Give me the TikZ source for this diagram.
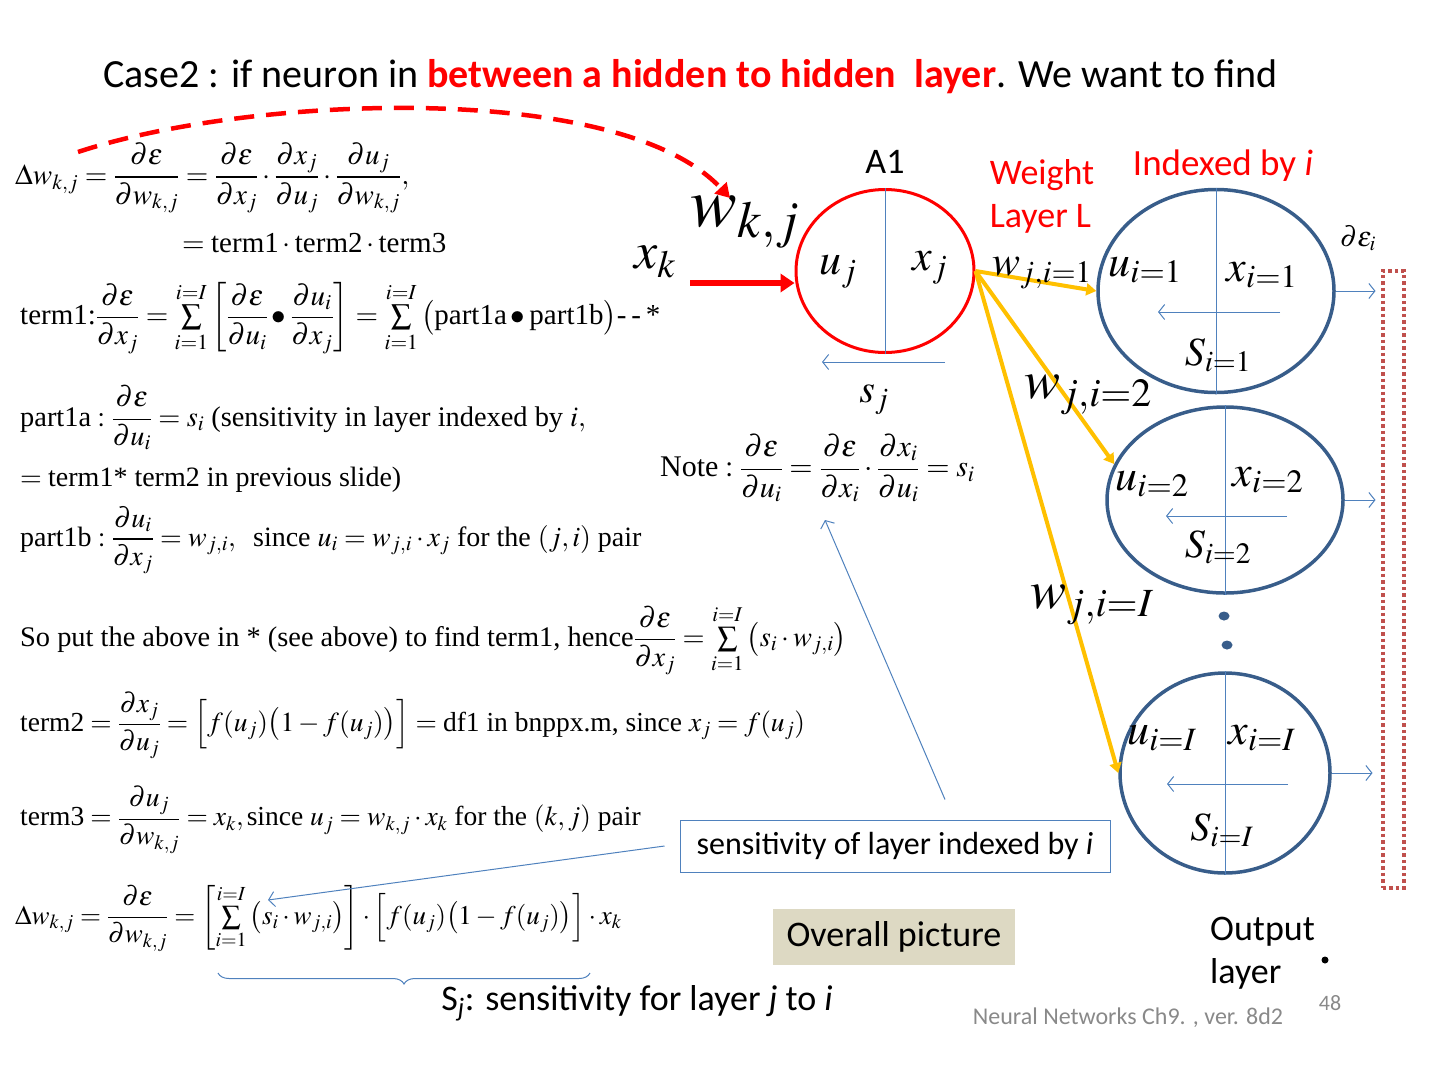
\documentclass[tikz,border=0pt]{standalone}
\usepackage{amsmath}
\usepackage{mathptmx}
\usepackage{fontspec}
\setmainfont{Liberation Serif}
\newfontfamily\slidefont{Carlito}
\usetikzlibrary{positioning}
\usetikzlibrary{arrows.meta}
\usetikzlibrary{shapes.geometric}
\usetikzlibrary{decorations.pathreplacing}
\definecolor{nblue}{RGB}{56,93,138}
\definecolor{lblue}{RGB}{79,129,189}
\definecolor{wyellow}{RGB}{255,192,0}
\definecolor{boxred}{RGB}{192,80,77}
\definecolor{tanbox}{RGB}{221,217,195}
\definecolor{fgray}{RGB}{137,137,137}
\tikzset{neuronA/.style = {draw=red, line width=3pt, ellipse, inner sep=0}}
\tikzset{neuron/.style = {draw=nblue, line width=3.5pt, ellipse, inner sep=0}}
\tikzset{thinline/.style = {draw=lblue, line width=1pt}}
\tikzset{openarr/.style = {thinline, -{Straight Barb[length=6pt,width=15pt]}}}
\tikzset{wline/.style = {draw=wyellow, line width=4pt, -{Triangle[length=10pt,width=12pt]}}}
\tikzset{eqn/.style = {anchor=west, inner sep=0, font=\fontsize{#1}{34}\selectfont}, eqn/.default=29}
\tikzset{slide/.style = {inner sep=0, font=\slidefont\fontsize{#1}{#1}\selectfont}}
\tikzset{bigmath/.style = {inner sep=0, font=\fontsize{#1}{#1}\selectfont}}

\begin{document}
\begin{tikzpicture}[x=1pt,y=-1pt]
  \useasboundingbox (0,0) rectangle (1440,1080);
  % title
  \node[slide=40, anchor=west] (title) at (103,77)
    {Case2 : if neuron in \textcolor{red}{\textbf{between a hidden to hidden\ \ layer}}. We want to find};

  % equations on the left
  \node[eqn] (eqA) at (15,178)
    {$\Delta w_{k,j} =\dfrac{\partial\varepsilon}{\partial w_{k,j}} =\dfrac{\partial\varepsilon}{\partial x_j}\cdot\dfrac{\partial x_j}{\partial u_j}\cdot\dfrac{\partial u_j}{\partial w_{k,j}},$};
  \node[eqn] (eqB) at (182,243) {$=\text{term1}\cdot\text{term2}\cdot\text{term3}$};
  \node[eqn] (eqC) at (20,318)
    {$\text{term1:}\dfrac{\partial\varepsilon}{\partial x_j} =\sum\limits_{i=1}^{i=I}\left[\dfrac{\partial\varepsilon}{\partial u_i}\bullet\dfrac{\partial u_i}{\partial x_j}\right] =\sum\limits_{i=1}^{i=I}\big(\text{part1a}\bullet\text{part1b}\big)\text{-\,-\,*}$};
  \node[eqn=28.4] (eqD) at (20,418)
    {$\text{part1a}:\dfrac{\partial\varepsilon}{\partial u_i} =s_i\ \text{(sensitivity in layer indexed by }i,$};
  \node[eqn=28] (eqE) at (20,480) {$=\text{term1* term2 in previous slide)}$};
  \node[eqn=28] (eqF) at (20,540)
    {$\text{part1b}:\dfrac{\partial u_i}{\partial x_j} =w_{j,i},\ \ \text{since }u_i =w_{j,i}\cdot x_j\text{ for the }(j,i)\text{ pair}$};
  \node[eqn=28.4] (eqG) at (20,640)
    {$\text{So put the above in * (see above) to find term1, hence}\dfrac{\partial\varepsilon}{\partial x_j} =\sum\limits_{i=1}^{i=I}\big(s_i\cdot w_{j,i}\big)$};
  \node[eqn=27.5] (eqH) at (20,725)
    {$\text{term2} =\dfrac{\partial x_j}{\partial u_j} =\Big[f(u_j)\big(1-f(u_j)\big)\Big] =\text{df1 in bnppx.m, since }x_j =f(u_j)$};
  \node[eqn=27.5] (eqI) at (20,820)
    {$\text{term3} =\dfrac{\partial u_j}{\partial w_{k,j}} =x_k,\text{since }u_j =w_{k,j}\cdot x_k\text{ for the }(k,j)\text{ pair}$};
  \node[eqn=27] (eqJ) at (15,918)
    {$\Delta w_{k,j} =\dfrac{\partial\varepsilon}{\partial w_{k,j}} =\left[\sum\limits_{i=1}^{i=I}\big(s_i\cdot w_{j,i}\big)\right]\cdot\Big[f(u_j)\big(1-f(u_j)\big)\Big]\cdot x_k$};

  % brace under the sum
  \coordinate (brL) at (218,973);
  \coordinate (brR) at (590,973);
  \draw[thinline, decorate, decoration={brace, mirror, amplitude=11pt}] (brL) -- (brR);
  \node[slide=36] (sjtext) at (637,1003) {S\textsubscript{\textit{j}}: sensitivity for layer \textit{j} to \textit{i}};

  % neuron j
  \node[slide=36] (A1lab) at (885,162) {A1};
  \node[neuronA, minimum width=178pt, minimum height=163pt] (A1) at (885,271) {};
  \draw[thinline] (A1.north) -- (A1.south);
  \node[bigmath=44] (uj) at (838,272) {$u_j$};
  \node[bigmath=44] (xj) at (930,268) {$x_j$};
  \coordinate (sjR) at (945,362);
  \coordinate (sjL) at (822,362);
  \draw[openarr] (sjR) -- (sjL);
  \node[bigmath=40] (sj) at (874,400) {$s_j$};
  \node[bigmath=52] (xk) at (655,262) {$x_k$};
  \coordinate (xin) at (690,283);
  \draw[red, line width=6pt, -{Triangle[length=14pt,width=18pt]}] (xin) -- (xin -| A1.west);
  \node[bigmath=70] (wkj) at (745,222) {$w_{k,j}$};

  % dashed pointer from the first equation
  \coordinate (dstart) at (78,152);
  \coordinate (dend) at (730,198);
  \draw[red, line width=4.5pt, dash pattern=on 20pt off 12pt, -{Triangle[length=14pt,width=16pt]}]
    (dstart) .. controls (250,95) and (620,80) .. (dend);

  \node[red, align=left, inner sep=0, font=\slidefont\fontsize{36}{43}\selectfont] (wlayer) at (1042,196) {Weight\\Layer L};
  \node[slide=37, red] (idx) at (1223,166) {Indexed by \textit{i}};

  % output layer neurons
  \node[neuron, minimum width=236pt, minimum height=203pt] (c1) at (1216,291) {};
  \node[neuron, minimum width=236pt, minimum height=186pt] (c2) at (1225,500) {};
  \node[neuron, minimum width=210pt, minimum height=200pt] (c3) at (1225,773) {};
  \draw[thinline] (c1.north) -- (c1.south);
  \draw[thinline] (c2.north) -- (c2.south);
  \draw[thinline] (c3.north) -- (c3.south);
  \draw[openarr] ([shift={(64,21)}]c1.center) -- ([shift={(-58,21)}]c1.center);
  \draw[openarr] ([shift={(62,16)}]c2.center) -- ([shift={(-59,16)}]c2.center);
  \draw[openarr] ([shift={(63,11)}]c3.center) -- ([shift={(-58,11)}]c3.center);
  \node[fill=nblue, ellipse, inner sep=0, minimum width=11pt, minimum height=9pt] (dot1) at (1224,616) {};
  \node[fill=nblue, ellipse, inner sep=0, minimum width=11pt, minimum height=9pt] (dot2) at (1227,645) {};

  \node[bigmath=44] (u1) at (1145,270) {$u_{i=1}$};
  \node[bigmath=44] (x1) at (1262,275) {$x_{i=1}$};
  \node[bigmath=40] (s1) at (1218,355) {$S_{i=1}$};
  \node[bigmath=44] (u2) at (1152,484) {$u_{i=2}$};
  \node[bigmath=44] (x2) at (1268,480) {$x_{i=2}$};
  \node[bigmath=40] (s2) at (1218,547) {$S_{i=2}$};
  \node[bigmath=44] (u3) at (1162,738) {$u_{i=I}$};
  \node[bigmath=44] (x3) at (1262,738) {$x_{i=I}$};
  \node[bigmath=40] (s3) at (1222,830) {$S_{i=I}$};

  % error box
  \node[draw=boxred, line width=4pt, dash pattern=on 3.5pt off 3pt, minimum width=21pt, minimum height=617pt, inner sep=0] (errbox) at (1393,579) {};
  \node[bigmath=28] (deps) at (1358,238) {$\partial\varepsilon_i$};
  \draw[openarr, shorten >=5pt] (c1.east) -- (c1.east -| errbox.west);
  \draw[openarr, shorten >=5pt] (c2.east) -- (c2.east -| errbox.west);
  \draw[openarr, shorten >=8pt] (c3.east) -- (c3.east -| errbox.west);

  % weights j -> i
  \draw[wline] (A1.east) -- (c1.west);
  \draw[wline] (A1.east) -- (c2.162);
  \draw[wline] (A1.east) -- (c3.west);
  \node[bigmath=42] (w1) at (1042,273) {$w_{j,i=1}$};
  \node[bigmath=54] (w2) at (1088,395) {$w_{j,i=2}$};
  \node[bigmath=54] (w3) at (1092,605) {$w_{j,i=I}$};

  % note and call-outs
  \node[eqn=30] (note) at (660,468)
    {$\text{Note}:\dfrac{\partial\varepsilon}{\partial u_i} =\dfrac{\partial\varepsilon}{\partial x_i}\cdot\dfrac{\partial x_i}{\partial u_i} =s_i$};
  \node[draw=lblue, line width=1pt, slide=32, minimum width=430pt, minimum height=52pt] (sensbox) at (895,846)
    {sensitivity of layer indexed by \textit{i}};
  \coordinate (notetip) at (825,520);
  \coordinate (sumtip) at (268,900);
  \draw[openarr] ([xshift=50pt, yshift=20pt]sensbox.north) -- (notetip);
  \draw[openarr] ([xshift=-15pt]sensbox.west) -- (sumtip);
  \node[fill=tanbox, slide=36, minimum width=242pt, minimum height=56pt] (overall) at (894,937) {Overall picture};

  \node[align=left, anchor=west, inner sep=0, font=\slidefont\fontsize{36}{43}\selectfont] (outlab) at (1210,953) {Output\\layer};
  \node[fill, circle, inner sep=0, minimum size=7pt] (odot) at (1325,960) {};
  \node[slide=22, fgray] (pnum) at (1330,1003) {48};
  \node[slide=24, fgray] (footer) at (1128,1018) {Neural Networks Ch9. , ver. 8d2};
\end{tikzpicture}
\end{document}
